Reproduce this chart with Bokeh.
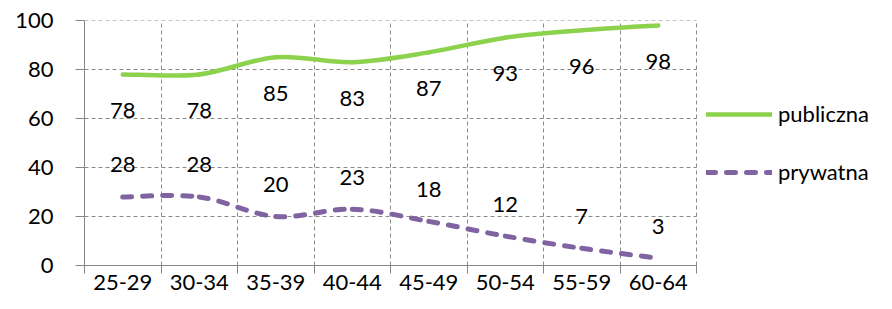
from bokeh.plotting import figure
from bokeh.models import Range1d, FixedTicker, Legend, LegendItem, ColumnDataSource
from bokeh.core.properties import value
from bokeh.embed import file_html
from bokeh.resources import INLINE

categories = ["25-29", "30-34", "35-39", "40-44", "45-49", "50-54", "55-59", "60-64"]
publiczna = [78, 78, 85, 83, 87, 93, 96, 98]
prywatna = [28, 28, 20, 23, 18, 12, 7, 3]
y_ticks = [0, 20, 40, 60, 80, 100]

FONT = "Lato"
GREEN = "#8cd24c"
PURPLE = "#8064a2"
AXIS = "#868686"
GRID = "#8a8a8a"

W, H = 876, 293
LEFT, TOP, BOTTOM = 84, 20, 28
PLOT_W = 612  # width of the category area in px

n = len(categories)
xc = [i + 0.5 for i in range(n)]
x_end = n * (W - LEFT) / PLOT_W  # frame runs to the right edge; legend sits in it


def smooth(xs, ys):
    d = dict(x0=[], y0=[], x1=[], y1=[], cx0=[], cy0=[], cx1=[], cy1=[])
    m = len(xs)
    for i in range(m - 1):
        a = i - 1 if i > 0 else i
        b = i + 2 if i + 2 < m else i + 1
        d["x0"].append(xs[i]); d["y0"].append(ys[i])
        d["x1"].append(xs[i + 1]); d["y1"].append(ys[i + 1])
        d["cx0"].append(xs[i] + (xs[i + 1] - xs[a]) / 6)
        d["cy0"].append(ys[i] + (ys[i + 1] - ys[a]) / 6)
        d["cx1"].append(xs[i + 1] - (xs[b] - xs[i]) / 6)
        d["cy1"].append(ys[i + 1] - (ys[b] - ys[i]) / 6)
    return ColumnDataSource(d)


p = figure(width=W, height=H, x_range=Range1d(0, x_end), y_range=Range1d(0, 100),
           output_backend="svg", toolbar_location=None,
           min_border_left=LEFT, min_border_right=0, min_border_top=TOP, min_border_bottom=BOTTOM)
p.outline_line_color = None
p.background_fill_color = "white"
p.border_fill_color = "white"

# grid: vertical lines at category boundaries, horizontal lines drawn over the category area only
p.xgrid.ticker = FixedTicker(ticks=list(range(1, n + 1)))
p.xgrid.grid_line_color = GRID
p.xgrid.grid_line_dash = "4 3"
p.xgrid.grid_line_width = 1
p.ygrid.visible = False
gy = [t for t in y_ticks if t > 0]
p.segment(x0=[0] * len(gy), y0=gy, x1=[n] * len(gy), y1=gy,
          line_color=GRID, line_dash="4 3", line_width=1, level="underlay")

# x axis
xa = p.xaxis[0]
xa.bounds = (0, n)
xa.ticker = FixedTicker(ticks=xc, minor_ticks=list(range(n + 1)))
xa.major_label_overrides = {x: c for x, c in zip(xc, categories)}
xa.major_tick_out = 0
xa.major_tick_in = 0
xa.minor_tick_out = 8
xa.minor_tick_in = 0
xa.minor_tick_line_color = AXIS
xa.axis_line_color = AXIS
xa.major_label_standoff = 1
xa.major_label_text_font = FONT
xa.major_label_text_font_size = "22px"
xa.major_label_text_color = "#000000"

# y axis
ya = p.yaxis[0]
ya.ticker = FixedTicker(ticks=y_ticks)
ya.major_tick_out = 9
ya.major_tick_in = 0
ya.minor_tick_out = 0
ya.minor_tick_in = 0
ya.major_tick_line_color = AXIS
ya.axis_line_color = AXIS
ya.major_label_standoff = 22
ya.major_label_text_font = FONT
ya.major_label_text_font_size = "22px"
ya.major_label_text_color = "#000000"

# lines
r_pub = p.bezier(x0="x0", y0="y0", x1="x1", y1="y1", cx0="cx0", cy0="cy0", cx1="cx1", cy1="cy1",
                 source=smooth(xc, publiczna), line_color=GREEN, line_width=4.5, line_cap="round")
r_pry = p.bezier(x0="x0", y0="y0", x1="x1", y1="y1", cx0="cx0", cy0="cy0", cx1="cx1", cy1="cy1",
                 source=smooth(xc, prywatna), line_color=PURPLE, line_width=5, line_cap="round",
                 line_dash="9 11")

# data labels
p.text(x=xc, y=publiczna, text=[str(v) for v in publiczna], y_offset=36,
       text_align="center", text_baseline="middle", text_font=value(FONT),
       text_font_size="22px", text_color="#000000")
p.text(x=xc, y=prywatna, text=[str(v) for v in prywatna], y_offset=-32,
       text_align="center", text_baseline="middle", text_font=value(FONT),
       text_font_size="22px", text_color="#000000")

# legend
legend = Legend(items=[LegendItem(label="publiczna", renderers=[r_pub]),
                       LegendItem(label="prywatna", renderers=[r_pry])],
                location=(622, 80), orientation="vertical",
                glyph_width=66, glyph_height=24, label_height=24, spacing=31,
                padding=0, margin=0, label_standoff=6,
                label_text_font=FONT, label_text_font_size="22px",
                label_text_color="#000000",
                border_line_color=None, background_fill_alpha=0)
p.add_layout(legend, "center")

open("out.html", "w").write(file_html(p, INLINE))
